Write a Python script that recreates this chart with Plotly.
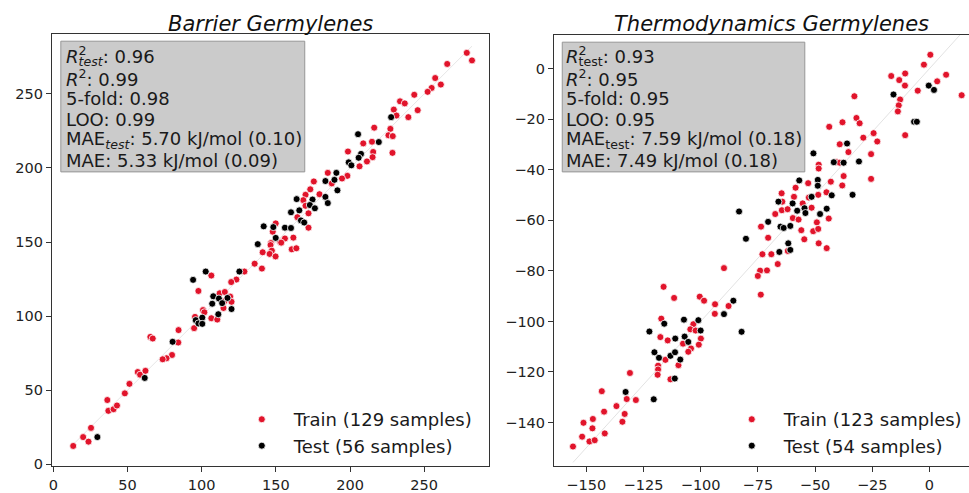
import plotly.graph_objects as go

# ---------------- data ----------------
# Barrier Germylenes (left)
bar_train_x = [278.7, 282.2, 265.5, 257.4, 261.2, 255.0, 252.3, 243.3, 245.6, 233.7, 236.9, 229.5, 231.3, 239.3,
               227.2, 216.3, 225.9, 228.8, 208.9, 214.8, 198.6, 215.6, 215.2, 211.4, 206.4, 228.6, 198.2, 194.6,
               185.0, 175.6, 173.2, 179.4, 170.0, 168.5, 170.0, 164.5, 172.0, 172.0, 149.9, 147.9, 152.8, 156.1,
               161.8, 146.7, 187.7, 141.1, 140.6, 146.4, 147.3, 145.8, 149.8, 153.6, 160.7, 163.8, 135.7, 128.8,
               123.4, 119.9, 106.5, 97.8, 112.1, 115.6, 119.2, 120.1, 114.7, 100.9, 101.8, 95.5, 106.5, 110.5,
               94.9, 84.4, 65.4, 67.0, 84.2, 80.0, 76.3, 73.7, 56.9, 58.5, 62.1, 51.3, 48.2, 36.4, 37.1, 40.6,
               42.9, 25.4, 20.1, 23.7, 13.4, 115.2]
bar_train_y = [277.7, 272.6, 270.2, 260.7, 256.3, 254.0, 251.4, 249.4, 239.0, 245.0, 243.6, 239.4, 235.4, 234.3,
               226.4, 227.2, 222.1, 221.5, 216.6, 217.7, 211.1, 210.8, 207.3, 204.4, 201.1, 210.2, 194.7, 192.9,
               196.7, 190.9, 185.6, 182.3, 181.9, 178.3, 174.5, 166.8, 169.4, 159.7, 162.6, 157.0, 150.2, 152.4,
               153.0, 149.3, 189.6, 143.1, 132.1, 148.0, 144.2, 142.0, 140.3, 149.6, 145.1, 145.8, 135.4, 130.1,
               124.7, 123.0, 127.4, 117.0, 115.4, 116.3, 113.2, 109.7, 105.5, 104.1, 102.6, 99.5, 98.6, 97.7,
               91.9, 90.6, 86.0, 84.9, 82.2, 73.8, 71.6, 70.9, 62.3, 60.5, 63.1, 54.3, 47.9, 43.4, 36.1, 37.2,
               39.7, 24.6, 18.4, 15.3, 12.4, 110.0]
bar_test_x = [227.7, 205.4, 219.4, 207.4, 205.8, 199.1, 200.9, 190.8, 189.5, 183.4, 191.5, 183.4, 185.0, 164.0,
              174.7, 172.9, 176.3, 165.8, 160.2, 166.9, 169.1, 141.8, 148.3, 156.1, 160.2, 149.9, 137.8,
              125.4, 102.7, 94.2, 107.8, 111.6, 117.4, 107.1, 113.8, 120.1, 111.2, 96.0, 100.4, 97.8, 100.4,
              80.4, 61.6, 29.7]
bar_test_y = [234.3, 222.8, 217.5, 209.5, 206.9, 203.8, 201.8, 196.7, 192.0, 191.2, 184.9, 180.5, 176.3, 179.0,
              178.7, 175.0, 172.8, 171.4, 170.1, 164.6, 163.2, 160.6, 160.1, 159.7, 159.5, 152.8, 148.6,
              130.1, 130.1, 124.5, 113.4, 111.9, 112.3, 108.4, 108.8, 104.8, 101.3, 97.3, 99.0, 95.1, 94.8,
              82.7, 58.3, 18.4]

# Thermodynamics Germylenes (right)
thermo_train_x = [0.4, -2.4, 7.3, 3.4, 14.1, -16.7, -10.6, -13.2, -10.7, -5.1, -12.8, -13.4, -13.8, -10.6, -32.8,
                  -31.9, -30.5, -38.0, -43.8, -24.4, -28.9, -22.8, -39.2, -35.4, -25.5, -40.7, -39.2, -48.4, -48.4,
                  -37.5, -38.1, -43.1, -25.5, -53.0, -58.5, -64.6, -45.0, -48.6, -52.7, -59.2, -55.4, -64.3, -51.5,
                  -64.5, -62.0, -67.4, -44.0, -59.7, -57.2, -49.2, -73.6, -56.0, -50.8, -48.6, -70.5, -54.7, -48.4,
                  -44.9, -61.9, -73.0, -69.1, -66.3, -74.0, -71.0, -75.0, -73.7, -89.8, -116.2, -111.6, -100.4,
                  -98.5, -93.7, -87.8, -93.8, -117.2, -103.2, -104.5, -102.2, -117.6, -114.4, -107.7, -99.9, -100.8,
                  -104.2, -105.4, -115.4, -109.7, -118.6, -118.6, -118.8, -130.9, -113.2, -155.8, -151.8, -148.6,
                  -146.3, -151.2, -147.3, -147.1, -141.9, -142.2, -143.2, -136.8, -134.2, -133.2, -132.3, -128.3]
thermo_train_y = [5.5, 1.6, -2.4, -5.0, -10.5, -2.9, -1.9, -4.5, -6.7, -8.7, -12.2, -14.5, -16.9, -26.3, -10.9,
                  -19.5, -21.6, -21.2, -23.0, -25.5, -27.3, -28.8, -29.9, -33.0, -33.8, -36.9, -37.2, -38.0, -39.5,
                  -42.5, -46.2, -44.7, -43.6, -45.3, -47.1, -49.3, -48.9, -49.9, -51.0, -50.7, -53.3, -52.6, -55.0,
                  -56.0, -55.6, -57.5, -59.3, -59.1, -59.7, -60.8, -62.5, -63.9, -64.3, -63.4, -66.9, -67.5, -69.1,
                  -71.0, -72.1, -73.4, -73.4, -77.3, -79.9, -79.8, -82.0, -89.4, -78.9, -86.3, -90.7, -90.2,
                  -91.8, -93.2, -93.9, -97.0, -98.9, -101.1, -103.1, -103.6, -106.2, -107.5, -108.8, -106.8, -109.2,
                  -110.7, -112.0, -115.2, -117.3, -117.5, -119.0, -121.1, -120.4, -122.9, -149.5, -145.6, -147.5,
                  -147.0, -140.1, -142.3, -138.6, -144.3, -135.7, -127.6, -133.5, -139.7, -136.6, -130.7, -131.1]
thermo_test_x = [-0.3, 2.0, -15.7, -6.7, -5.5, -36.0, -50.7, -30.8, -41.8, -37.5, -33.6, -56.9, -48.8, -48.8,
                 -42.7, -51.5, -66.0, -59.8, -54.6, -44.9, -57.8, -54.2, -47.8, -70.5, -65.1, -63.7, -60.8, -83.2,
                 -80.2, -61.7, -60.8, -65.6, -85.7, -89.8, -82.1, -115.9, -107.3, -101.0, -100.0, -122.4, -111.1,
                 -107.0, -105.4, -120.2, -118.2, -113.2, -111.2, -108.9, -111.3, -132.8, -120.5]
thermo_test_y = [-6.7, -8.4, -10.2, -21.0, -21.0, -29.6, -33.5, -36.7, -37.0, -37.2, -49.9, -44.2, -44.0, -46.3,
                 -50.1, -50.7, -52.6, -53.3, -55.2, -55.4, -56.2, -57.1, -57.5, -60.6, -62.5, -63.0, -62.2, -56.5,
                 -67.3, -69.1, -71.7, -72.5, -91.8, -97.1, -104.1, -100.9, -99.3, -99.5, -103.6, -104.0, -106.8,
                 -106.0, -108.1, -112.2, -114.4, -113.6, -112.2, -115.1, -122.6, -127.9, -130.8]

titles = ["Barrier Germylenes", "Thermodynamics Germylenes"]
train_labels = ["Train (129 samples)", "Train (123 samples)"]
test_labels = ["Test (56 samples)", "Test (54 samples)"]
stats_left = ["0.96", "0.99", "0.98", "0.99", "5.70 kJ/mol (0.10)", "5.33 kJ/mol (0.09)"]
stats_right = ["0.93", "0.95", "0.95", "0.95", "7.59 kJ/mol (0.18)", "7.49 kJ/mol (0.18)"]
left_ticks = [0, 50, 100, 150, 200, 250]
right_xticks = [-150, -125, -100, -75, -50, -25, 0]
right_yticks = [-140, -120, -100, -80, -60, -40, -20, 0]

# ---------------- figure ----------------
W, H = 969, 493
FONT = "DejaVu Sans"
RED = "#e1142b"
TXT = "#1a1a1a"


def px(x):
    return x / W


def py(y):
    return 1 - y / H


fig = go.Figure()

# diagonal reference lines
dl = [min(bar_train_x + bar_test_x), max(bar_train_x + bar_test_x)]
dr = [min(thermo_train_x + thermo_test_x), max(thermo_train_x + thermo_test_x)]
fig.add_trace(go.Scatter(x=dl, y=dl, mode="lines", line=dict(color="#e6e6e6", width=1),
                         showlegend=False, xaxis="x", yaxis="y", hoverinfo="skip"))
fig.add_trace(go.Scatter(x=dr, y=dr, mode="lines", line=dict(color="#e2e2e2", width=1),
                         showlegend=False, xaxis="x2", yaxis="y2", hoverinfo="skip"))


def mk(c):
    return dict(color=c, size=7, line=dict(color="white", width=0.8))


fig.add_trace(go.Scatter(x=bar_train_x, y=bar_train_y, mode="markers", marker=mk(RED),
                         name=train_labels[0], xaxis="x", yaxis="y", legend="legend"))
fig.add_trace(go.Scatter(x=bar_test_x, y=bar_test_y, mode="markers", marker=mk("black"),
                         name=test_labels[0], xaxis="x", yaxis="y", legend="legend"))
fig.add_trace(go.Scatter(x=thermo_train_x, y=thermo_train_y, mode="markers", marker=mk(RED),
                         name=train_labels[1], xaxis="x2", yaxis="y2", legend="legend2"))
fig.add_trace(go.Scatter(x=thermo_test_x, y=thermo_test_y, mode="markers", marker=mk("black"),
                         name=test_labels[1], xaxis="x2", yaxis="y2", legend="legend2"))

axis_common = dict(showgrid=False, zeroline=False, showline=True, linecolor="#333", linewidth=1,
                   ticks="outside", ticklen=5, tickwidth=1, tickcolor="#333",
                   tickfont=dict(family=FONT, size=14.5, color="#222"))

legend_common = dict(xanchor="left", yanchor="top", bgcolor="rgba(0,0,0,0)",
                     font=dict(family=FONT, size=18, color=TXT), itemwidth=54, tracegroupgap=0)

fig.update_layout(
    width=W, height=H, margin=dict(l=0, r=0, t=0, b=0),
    paper_bgcolor="white", plot_bgcolor="white",
    xaxis=dict(domain=[px(49), px(488)], range=[-1.0, 294.0], tickvals=left_ticks, mirror=True,
               anchor="y", **axis_common),
    yaxis=dict(domain=[py(472), py(34)], range=[-1.3, 290.7], tickvals=left_ticks, mirror=True,
               anchor="x", **axis_common),
    xaxis2=dict(domain=[px(552.7), 1.0], range=[-164.1, 17.3], tickvals=right_xticks, mirror=True,
                anchor="y2", **axis_common),
    yaxis2=dict(domain=[py(472), py(35)], range=[-157.3, 13.5], tickvals=right_yticks, mirror=False,
                anchor="x2", **axis_common),
    legend=dict(x=px(227.5), y=py(406), **legend_common),
    legend2=dict(x=px(719), y=py(406), **legend_common),
    showlegend=True,
)

shapes = [
    dict(type="rect", xref="paper", yref="paper", x0=px(58), x1=px(302.7), y0=py(174), y1=py(41.7),
         fillcolor="rgb(203,203,203)", line=dict(color="rgb(150,150,150)", width=1), layer="above"),
    dict(type="rect", xref="paper", yref="paper", x0=px(561), x1=px(804.3), y0=py(174), y1=py(42.7),
         fillcolor="rgb(203,203,203)", line=dict(color="rgb(150,150,150)", width=1), layer="above"),
]
fig.update_layout(shapes=shapes)

ann = []
tf = dict(family=FONT, size=18, color=TXT)


def add_text(x, y, text, font=tf):
    ann.append(dict(x=px(x), y=py(y), xref="paper", yref="paper", text=text, showarrow=False,
                    xanchor="left", yanchor="middle", font=font, borderpad=0))


# titles
for cx, t in [(268.5, titles[0]), (771, titles[1])]:
    ann.append(dict(x=px(cx), y=py(24), xref="paper", yref="paper", text="<i>%s</i>" % t,
                    showarrow=False, xanchor="center", yanchor="middle", borderpad=0,
                    font=dict(family=FONT, size=21, color="#111")))

line_y = [57.0, 78.5, 99.5, 120.5, 141.5, 162.5]
for (x0, stats, italic_sub) in [(61.7, stats_left, True), (563.3, stats_right, False)]:
    sub = "<i>test</i>" if italic_sub else "test"
    # superscript 2 stacked above the "test" subscript (cursor pulled back after the 2)
    add_text(x0, line_y[0],
             "<i>R</i><sup><span style='letter-spacing:-8px'>2</span></sup><sub>%s</sub>: %s" % (sub, stats[0]))
    add_text(x0, line_y[1], "<i>R</i><sup>2</sup>: " + stats[1])
    add_text(x0, line_y[2], "5-fold: " + stats[2])
    add_text(x0, line_y[3], "LOO: " + stats[3])
    add_text(x0, line_y[4], "MAE<sub>%s</sub>: %s" % (sub, stats[4]))
    add_text(x0, line_y[5], "MAE: " + stats[5])

fig.update_layout(annotations=ann)

fig.write_html("out.html")
